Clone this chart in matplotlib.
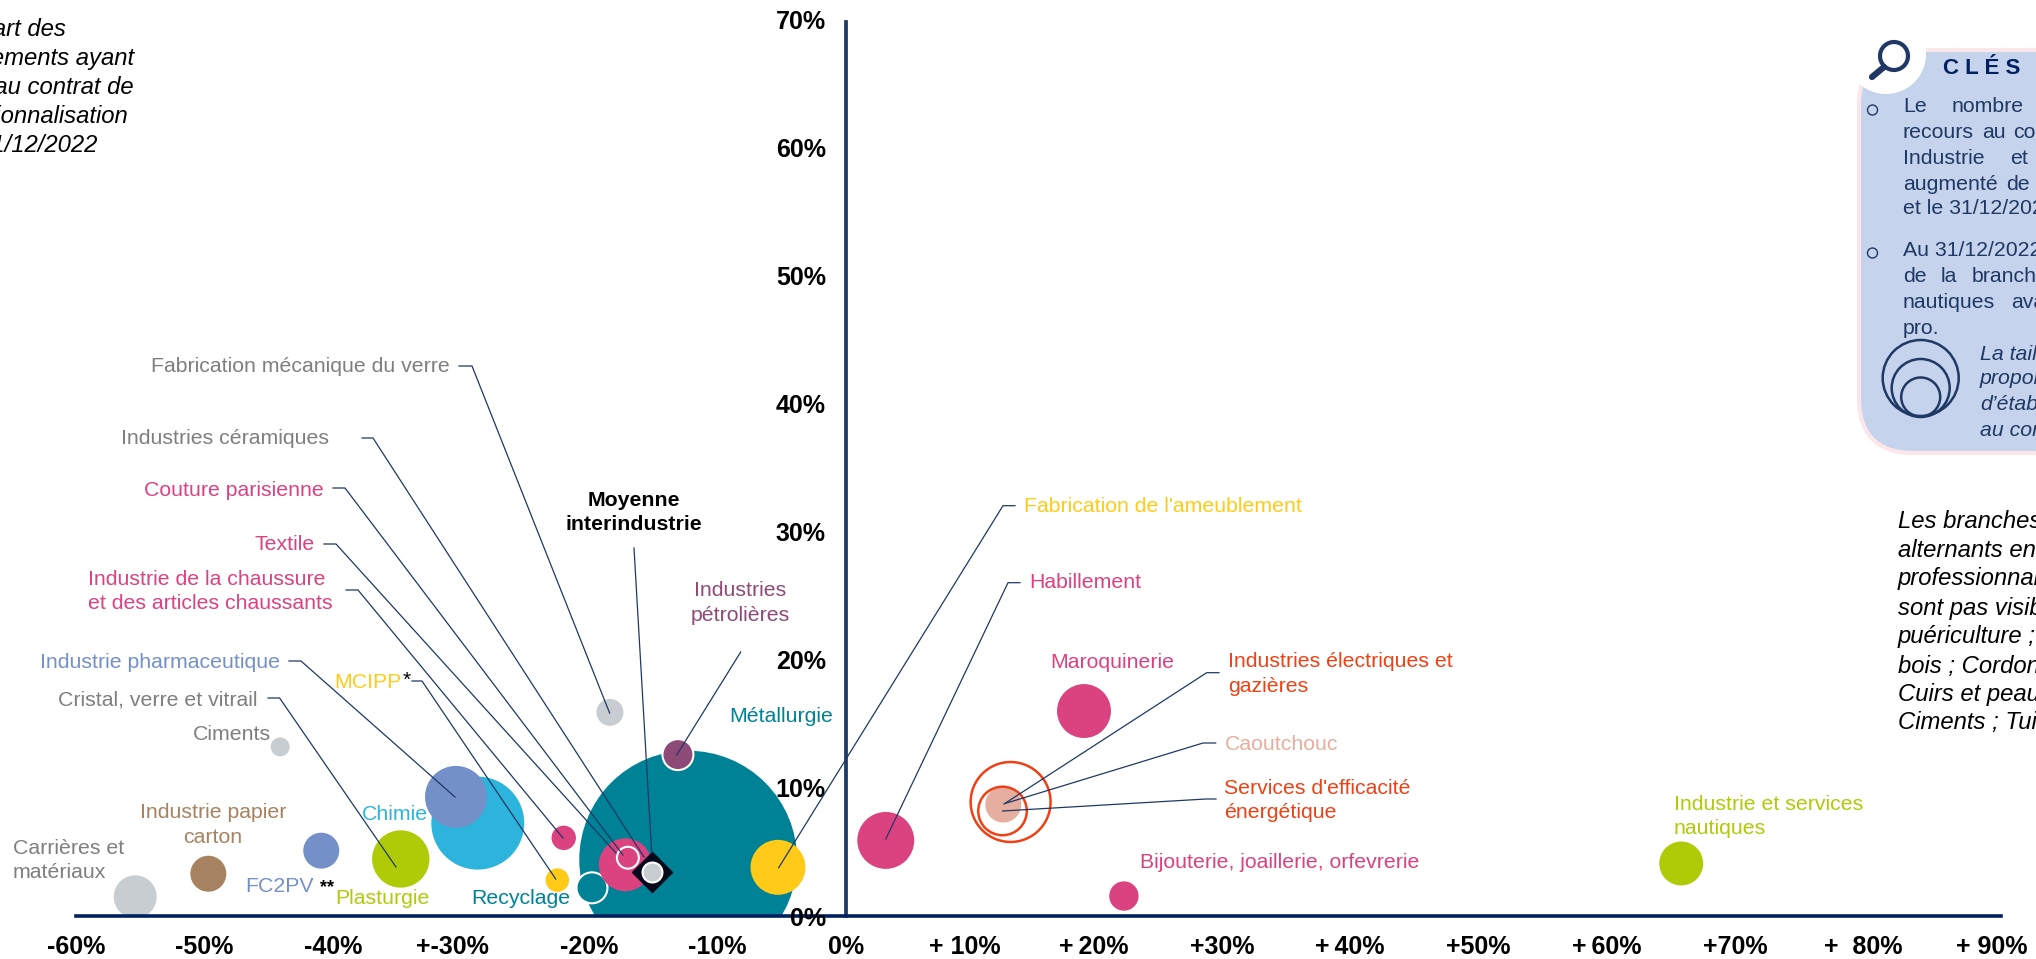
import matplotlib
matplotlib.use('Agg')
import matplotlib.pyplot as plt
from matplotlib.patches import Circle, FancyBboxPatch
from matplotlib.transforms import ScaledTranslation

plt.rcParams['font.family'] = ['Liberation Sans', 'DejaVu Sans']

# bubbles, in drawing order
branches = ['Carrières et matériaux', 'Industrie papier carton', 'FC2PV', 'Plasturgie', 'Chimie',
            'Industrie pharmaceutique', 'Ciments', 'Fabrication mécanique du verre',
            'Industrie de la chaussure', 'MCIPP', 'Métallurgie', 'Recyclage', 'Textile',
            'Couture parisienne', 'Industries pétrolières', 'Fabrication de l\'ameublement',
            'Habillement', 'Maroquinerie', 'Caoutchouc', 'Services d\'efficacité énergétique',
            'Industries électriques et gazières', 'Bijouterie, joaillerie, orfevrerie',
            'Industrie et services nautiques']
evol_x = [-55.4, -49.7, -40.9, -34.7, -28.7, -30.4, -44.1, -18.4, -22.0, -22.5, -12.3, -19.8,
          -17.2, -17.0, -13.1, -5.3, 3.1, 18.55, 12.26, 12.2, 12.83, 21.66, 65.1]
part_y = [1.5, 3.3, 5.1, 4.45, 7.25, 9.3, 13.2, 15.9, 6.1, 2.8, 4.4, 2.2,
          4.0, 4.55, 12.6, 3.8, 5.9, 16.0, 8.7, 8.2, 8.9, 1.56, 4.1]
taille = [462, 324, 324, 824, 2162, 961, 90, 182, 149, 139, 11881, 240,
          702, 120, 240, 756, 812, 729, 324, 590, 1600, 216, 484]

moyenne_x = -15.1
moyenne_y = 3.45

xticks = [-60, -50, -40, -30, -20, -10, 0, 10, 20, 30, 40, 50, 60, 70, 80, 90]
xticklabels = ['-60%', '-50%', '-40%', '+-30%', '-20%', '-10%', '0%', '+ 10%', '+\u200920%', '+30%',
               '+\u200940%', '+50%', '+\u200960%', '+70%', '+  80%', '+ 90%']
yticks = [0, 10, 20, 30, 40, 50, 60, 70]
yticklabels = ['0%', '10%', '20%', '30%', '40%', '50%', '60%', '70%']

GRAY = '#7F7F7F'
PINK = '#DB4280'
BLUE = '#7490C9'
TEAL = '#008296'
LIME = '#AFCB08'
CYAN = '#2DB4DC'
YELLOW = '#FFCB18'
BROWN = '#A68260'
BUB_GRAY = '#C8CDD1'
PURPLE = '#8E4A76'
ORANGE = '#EE4115'
PEACH = '#E5AE9F'
NAVY = '#1F3864'
DARK = '#002060'

face = [BUB_GRAY, BROWN, BLUE, LIME, CYAN, BLUE, BUB_GRAY, BUB_GRAY, PINK, YELLOW, TEAL, TEAL,
        PINK, PINK, PURPLE, YELLOW, PINK, PINK, PEACH, 'none', 'none', PINK, LIME]
edge = ['none'] * 23
width = [0] * 23
for i in (11, 13, 14):
    edge[i] = 'white'
    width[i] = 1.5
for i in (19, 20):
    edge[i] = ORANGE
    width[i] = 1.8

fig = plt.figure(figsize=(20.36, 9.59), dpi=100)
ax = fig.add_axes([0, 0, 1, 1])
ax.set_xlim(-846 / 12.83, (2036 - 846) / 12.83)
ax.set_ylim(-43 / 12.81, 916 / 12.81)
ax.patch.set_visible(False)

sc = ax.scatter(evol_x, part_y, s=[t * 2.07 for t in taille], c=face, edgecolors=edge,
                linewidths=width, zorder=1)
sc.set_clip_path(plt.Rectangle((-70, 0), 200, 100, transform=ax.transData))
ax.scatter([moyenne_x], [moyenne_y], s=415, marker='D', c='#05091A', zorder=1.5)
ax.scatter([moyenne_x], [moyenne_y], s=205, c=BUB_GRAY, edgecolors='white', linewidths=1.5, zorder=1.6)

for s in ['top', 'right']:
    ax.spines[s].set_visible(False)
ax.spines['bottom'].set_position(('data', 0))
ax.spines['left'].set_position(('data', 0))
ax.spines['bottom'].set_bounds(-60, 90)
ax.spines['left'].set_bounds(0, 69.8)
ax.spines['bottom'].set_color(DARK)
ax.spines['left'].set_color(NAVY)
ax.spines['bottom'].set_linewidth(2.6)
ax.spines['left'].set_linewidth(2.7)
ax.set_axisbelow(False)
ax.set_xticks(xticks)
ax.set_xticklabels(xticklabels, fontsize=18, fontweight='bold')
ax.set_yticks(yticks)
ax.set_yticklabels(yticklabels, fontsize=18, fontweight='bold')
ax.tick_params(axis='x', length=0, pad=13.5)
ax.tick_params(axis='y', length=0, pad=14.5)
for lab, v in zip(ax.get_xticklabels(), xticks):
    dx = -6.5 if v > 0 or v == -30 else 0
    lab.set_transform(lab.get_transform() + ScaledTranslation(dx / 72, 0, fig.dpi_scale_trans))

# everything below is placed in picture pixels
ov = fig.add_axes([0, 0, 1, 1], zorder=5)
ov.set_xlim(0, 2036)
ov.set_ylim(959, 0)
ov.axis('off')


def leader(*pts):
    ov.plot([p[0] for p in pts], [p[1] for p in pts], color=NAVY, lw=0.9, zorder=3)


def label(x, y, txt, color, ha='left', fs=15.3, **kw):
    ov.text(x, y, txt, color=color, ha=ha, va='center', fontsize=fs, linespacing=1.36, clip_on=False, **kw)


leader((459, 366), (472, 366), (609.6, 713))
leader((362, 438), (373, 438), (644, 857))
leader((333, 488), (345, 488), (623, 855))
leader((324, 544), (336, 544), (616, 853))
leader((346, 590), (358, 590), (563, 838))
leader((289, 661), (301, 661), (455, 797))
leader((268, 698), (279.6, 698), (396, 867))
leader((412, 681), (422, 681), (555.7, 879))
leader((634, 548), (651.7, 853))
leader((740.7, 652), (676.7, 755))
leader((1015, 505.7), (1003, 505.7), (778.7, 867.7))
leader((1020, 582.7), (1008, 582.7), (885.8, 839))
leader((1219, 672.7), (1206.7, 672.7), (1004, 804))
leader((1215.7, 743), (1203, 743), (1005, 803.5))
leader((1216, 799), (1206, 799), (1002.6, 811))

label(450, 367, 'Fabrication mécanique du verre', GRAY, 'right')
label(329, 439, 'Industries céramiques', GRAY, 'right')
label(324, 490, 'Couture parisienne', PINK, 'right')
label(315, 544, 'Textile', PINK, 'right')
label(88, 591.5, 'Industrie de la chaussure\net des articles chaussants', PINK)
label(280, 663, 'Industrie pharmaceutique', BLUE, 'right')
label(334, 682, 'MCIPP', YELLOW)
label(403, 680, '*', 'black')
label(258, 700, 'Cristal, verre et vitrail', GRAY, 'right')
label(271, 734, 'Ciments', GRAY, 'right')
label(213, 825, 'Industrie papier\ncarton', BROWN, 'center', multialignment='center')
label(13, 860.5, 'Carrières et\nmatériaux', GRAY)
label(245, 886, 'FC2PV', BLUE)
label(320, 888, '**', 'black', fontweight='bold', fs=13)
label(335, 898, 'Plasturgie', LIME)
label(362, 814, 'Chimie', CYAN)
label(471, 899, 'Recyclage', TEAL)
label(634, 512.5, 'Moyenne\ninterindustrie', 'black', 'center', fontweight='bold', multialignment='center')
label(740, 603, 'Industries\npétrolières', PURPLE, 'center', multialignment='center')
label(833.5, 717, 'Métallurgie', TEAL, 'right')
label(1024, 507, "Fabrication de l'ameublement", YELLOW)
label(1029, 583, 'Habillement', PINK)
label(1050.7, 663, 'Maroquinerie', PINK)
label(1228, 674, 'Industries électriques et\ngazières', ORANGE)
label(1224.5, 744, 'Caoutchouc', PEACH)
label(1224.5, 800.5, "Services d'efficacité\nénergétique", ORANGE)
label(1140, 863, 'Bijouterie, joaillerie, orfevrerie', PINK)
label(1674, 816.5, 'Industrie et services\nnautiques', LIME)

# texte en haut a gauche, coupe par le bord de l'image
for y, right, txt in [(30, 66, 'Part des'), (58, 134, 'établissements ayant'),
                      (87, 134, 'recours au contrat de'), (116, 128, 'professionnalisation'),
                      (145, 97, 'au 31/12/2022')]:
    label(right, y, txt, 'black', 'right', fs=17.2, style='italic')

# encadre cles
ov.add_patch(FancyBboxPatch((1859, 50), 300, 403, boxstyle='round,pad=0,rounding_size=55',
                            fc='#C5D3EC', ec='#FBE6EA', lw=3, zorder=1))
ov.add_patch(Circle((1886, 54), 40, fc='white', ec='none', zorder=1.2))
ov.add_patch(Circle((1894, 56), 14, fc='none', ec=NAVY, lw=3, zorder=2))
ov.plot([1884, 1872], [67, 77], color=NAVY, lw=4.5, solid_capstyle='round', zorder=2)
label(1943, 68, 'C L É S', DARK, fs=16, fontweight='bold')
for y in (110, 253):
    ov.add_patch(Circle((1872.5, y), 5, fc='none', ec=NAVY, lw=1, zorder=2))
for y, x, txt in [(107, 1903, 'Le'), (107, 1952, 'nombre'),
                  (133, 1903, 'recours'), (133, 1981.7, 'au'), (133, 2012.7, 'contrat'),
                  (158, 1903, 'Industrie'), (158, 2010, 'et'),
                  (184, 1903, 'augmenté'), (184, 2005.7, 'de'),
                  (209, 1903, 'et le 31/12/2022'),
                  (251, 1903, 'Au 31/12/2022'),
                  (277, 1903, 'de'), (277, 1940.7, 'la'), (277, 1972, 'branche'),
                  (303, 1903, 'nautiques'), (303, 2010.7, 'avaient'),
                  (328, 1903, 'pro.')]:
    label(x, y, txt, NAVY, fs=15.3)
for cy, r in [(378, 38), (388, 29), (397, 19.5)]:
    ov.add_patch(Circle((1920.7, cy), r, fc='none', ec=NAVY, lw=1.8, zorder=2))
for y, txt in [(354, 'La taille'), (379, 'proportionnelle'), (405, 'd’établissements'), (431, 'au contrat')]:
    label(1980, y, txt, NAVY, fs=15.3, style='italic')

# note a droite
for y, txt in [(522, 'Les branches'), (550.5, 'alternants en'), (579, 'professionnalisation'),
               (608, 'sont pas visibles'), (637, 'puériculture ;'), (666, 'bois ; Cordonnerie'),
               (695, 'Cuirs et peaux'), (723, 'Ciments ; Tuiles')]:
    label(1898, y, txt, 'black', fs=17.2, style='italic')

fig.savefig('out.png', dpi=100)
